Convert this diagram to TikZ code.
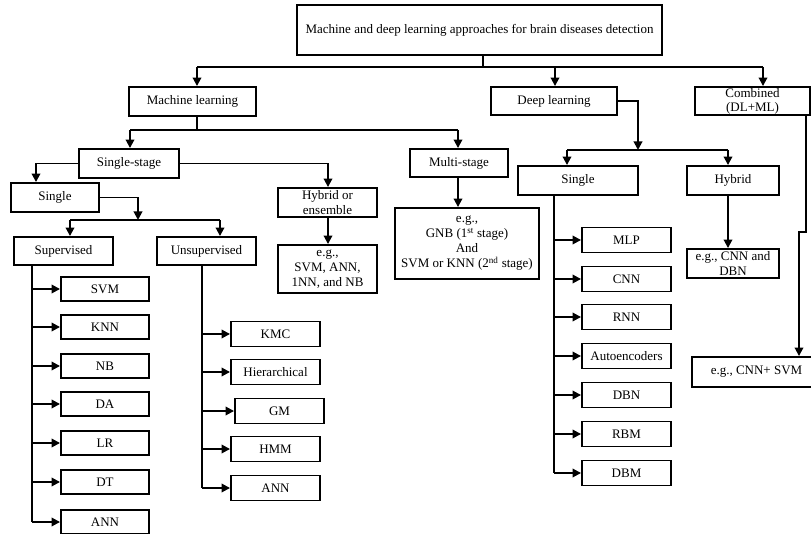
\documentclass[tikz,border=0pt]{standalone}
\usepackage{fontspec}
\setmainfont{Liberation Serif}
\usetikzlibrary{arrows.meta}
\begin{document}
\begin{tikzpicture}[x=1pt,y=-1pt,
  box/.style={draw, line width=1.9pt, inner sep=0pt, align=center,
    font=\fontsize{13}{15}\selectfont},
  leaf/.style={box, minimum width=88pt, minimum height=24pt},
  wire/.style={line width=1.9pt},
  arr/.style={wire, -{Triangle[length=8.5pt,width=8.5pt]}}]
\useasboundingbox (0,0) rectangle (811,534);

% ---- boxes ----
\node[box, minimum width=365pt, minimum height=50pt] (top) at (479.5,30)
  {Machine and deep learning approaches for brain diseases detection};
\node[box, minimum width=127pt, minimum height=29pt] (ml) at (192.5,101.5) {Machine learning};
\node[box, minimum width=126pt, minimum height=28pt] (dl) at (554,101) {Deep learning};
\node[box, minimum width=115pt, minimum height=28pt, font=\fontsize{13}{14}\selectfont]
  (comb) at (752.5,101) {Combined\\(DL+ML)};

\node[box, minimum width=100pt, minimum height=29pt] (sstage) at (129,163.5) {Single-stage};
\node[box, minimum width=98pt, minimum height=28pt] (mstage) at (459,163) {Multi-stage};
\node[box, minimum width=88pt, minimum height=29pt] (single) at (55,197.5) {Single};
\node[box, minimum width=99pt, minimum height=29pt] (hyb) at (327.5,202.5) {Hybrid or\\ensemble};
\node[box, minimum width=99pt, minimum height=48pt] (hybeg) at (327.5,269)
  {e.g.,\\SVM, ANN,\\1NN, and NB};
\node[box, minimum width=99pt, minimum height=28pt] (sup) at (63.5,251) {Supervised};
\node[box, minimum width=99pt, minimum height=28pt] (unsup) at (206.5,251) {Unsupervised};
\node[box, minimum width=144pt, minimum height=71pt] (mseg) at (467,243.5)
  {e.g.,\\GNB (1\textsuperscript{st} stage)\\And\\SVM or KNN (2\textsuperscript{nd} stage)};

\node[box, minimum width=120pt, minimum height=29pt] (dsingle) at (578,180.5) {Single};
\node[box, minimum width=92pt, minimum height=29pt] (dhyb) at (733,180.5) {Hybrid};
\node[box, minimum width=92pt, minimum height=29pt] (dhybeg) at (733,263.5) {e.g., CNN and\\DBN};
\node[box, minimum width=129pt, minimum height=30pt] (combeg) at (756.5,372) {e.g., CNN+ SVM};

% supervised methods
\node[leaf] (s1) at (105,289) {SVM};
\node[leaf] (s2) at (105,327) {KNN};
\node[leaf] (s3) at (105,366) {NB};
\node[leaf] (s4) at (105,404) {DA};
\node[leaf] (s5) at (105,443) {LR};
\node[leaf] (s6) at (105,482) {DT};
\node[leaf] (s7) at (105,522) {ANN};

% unsupervised methods
\node[leaf, minimum width=89pt, minimum height=25pt] (u1) at (275.5,334) {KMC};
\node[leaf, minimum width=89pt, minimum height=25pt] (u2) at (275.5,372) {Hierarchical};
\node[leaf, minimum width=89pt, minimum height=25pt] (u3) at (279.5,411) {GM};
\node[leaf, minimum width=89pt, minimum height=25pt] (u4) at (275.5,449) {HMM};
\node[leaf, minimum width=89pt, minimum height=25pt] (u5) at (275.5,488) {ANN};

% deep learning methods
\node[leaf, minimum width=89pt, minimum height=25pt] (d1) at (626.5,240) {MLP};
\node[leaf, minimum width=89pt, minimum height=25pt] (d2) at (626.5,279) {CNN};
\node[leaf, minimum width=89pt, minimum height=25pt] (d3) at (626.5,317) {RNN};
\node[leaf, minimum width=89pt, minimum height=25pt] (d4) at (626.5,356) {Autoencoders};
\node[leaf, minimum width=89pt, minimum height=25pt] (d5) at (626.5,395) {DBN};
\node[leaf, minimum width=89pt, minimum height=25pt] (d6) at (626.5,434) {RBM};
\node[leaf, minimum width=89pt, minimum height=25pt] (d7) at (626.5,473) {DBM};

% ---- junction points ----
\coordinate (t0) at (483,67);
\coordinate (tl) at (197,67);
\coordinate (tm) at (555,67);
\coordinate (tr) at (763,67);
\coordinate (m0) at (197,130);
\coordinate (ml1) at (130,130);
\coordinate (mr1) at (458,130);
\coordinate (sl) at (36,163.5);
\coordinate (sr) at (328,163.5);
\coordinate (g0) at (138,197.5);
\coordinate (g1) at (138,220);
\coordinate (gl) at (70,220);
\coordinate (gr) at (220,220);
\coordinate (dk) at (638,101);
\coordinate (d0) at (638,150);
\coordinate (dlb) at (567,150);
\coordinate (drb) at (728,150);
\coordinate (c0) at (806,232);
\coordinate (c1) at (799,232);
\coordinate (st) at (32,522);
\coordinate (ut) at (202,488);
\coordinate (dt) at (554,473);

% ---- connectors ----
\draw[wire] (top.south -| t0) -- (t0);
\draw[wire] (tl) -- (tr);
\draw[arr] (tl) -- (tl |- ml.north);
\draw[arr] (tm) -- (tm |- dl.north);
\draw[arr] (tr) -- (tr |- comb.north);

\draw[wire] (ml.south -| m0) -- (m0);
\draw[wire] (ml1) -- (mr1);
\draw[arr] (ml1) -- (ml1 |- sstage.north);
\draw[arr] (mr1) -- (mr1 |- mstage.north);

\draw[arr] (sstage.west) -- (sl) -- (sl |- single.north);
\draw[arr] (sstage.east) -- (sr) -- (sr |- hyb.north);
\draw[arr] (hyb.south -| sr) -- (sr |- hybeg.north);
\draw[arr] (mstage.south -| mr1) -- (mr1 |- mseg.north);

\draw[arr] (single.east) -- (g0) -- (g1);
\draw[wire] (gl) -- (gr);
\draw[arr] (gl) -- (gl |- sup.north);
\draw[arr] (gr) -- (gr |- unsup.north);

\draw[wire] (sup.south -| st) -- (st);
\foreach \n in {s1,s2,s3,s4,s5,s6,s7}
  \draw[arr] (st |- \n.west) -- (\n.west);

\draw[wire] (unsup.south -| ut) -- (ut);
\foreach \n in {u1,u2,u3,u4,u5}
  \draw[arr] (ut |- \n.west) -- (\n.west);

\draw[arr] (dl.east) -- (dk) -- (d0);
\draw[wire] (dlb) -- (drb);
\draw[arr] (dlb) -- (dlb |- dsingle.north);
\draw[arr] (drb) -- (drb |- dhyb.north);
\draw[arr] (dhyb.south -| drb) -- (drb |- dhybeg.north);

\draw[wire] (dsingle.south -| dt) -- (dt);
\foreach \n in {d1,d2,d3,d4,d5,d6,d7}
  \draw[arr] (dt |- \n.west) -- (\n.west);

\draw[arr] (comb.south -| c0) -- (c0) -- (c1) -- (c1 |- combeg.north);
\end{tikzpicture}
\end{document}
